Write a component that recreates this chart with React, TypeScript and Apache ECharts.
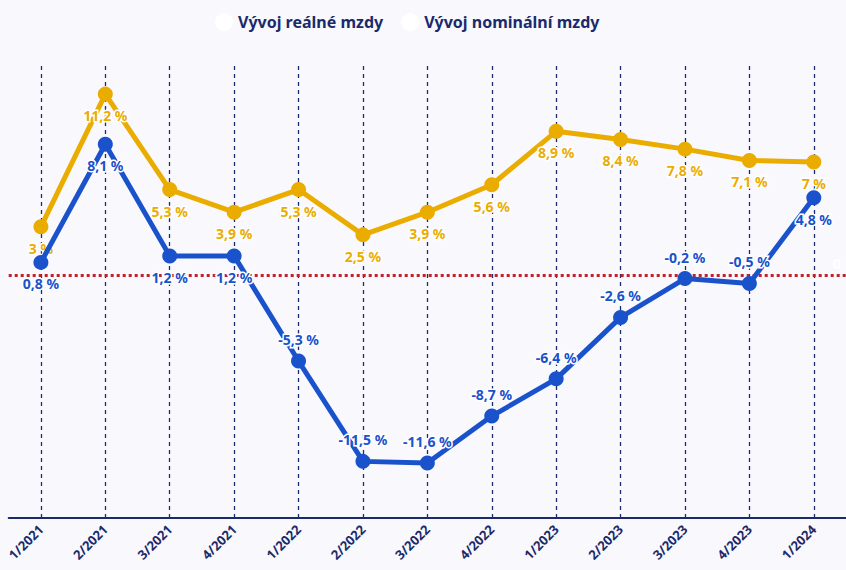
import React, { useEffect, useRef } from "react";
import * as echarts from "echarts";

const categories = ["1/2021", "2/2021", "3/2021", "4/2021", "1/2022", "2/2022", "3/2022", "4/2022", "1/2023", "2/2023", "3/2023", "4/2023", "1/2024"];
const realWages = [0.8, 8.1, 1.2, 1.2, -5.3, -11.5, -11.6, -8.7, -6.4, -2.6, -0.2, -0.5, 4.8];
const nominalWages = [3, 11.2, 5.3, 3.9, 5.3, 2.5, 3.9, 5.6, 8.9, 8.4, 7.8, 7.1, 7];
const seriesNames = ["Vývoj reálné mzdy", "Vývoj nominální mzdy"];

const NAVY = "#1b2a6b";
const BLUE = "#1a52cc";
const YELLOW = "#ebac00";
const FONT = "Noto Sans";

const fmt = (v: number) => String(v).replace(".", ",") + " %";

export default function App() {
  const ref = useRef<HTMLDivElement>(null);
  useEffect(() => {
    const chart = echarts.init(ref.current!, null, { renderer: "svg" });
    const labelBase = {
      show: true,
      fontFamily: FONT,
      fontWeight: "bold" as const,
      fontSize: 14,
      textBorderColor: "#ffffff",
      textBorderWidth: 3,
      distance: 7,
      formatter: (p: any) => fmt(p.value),
    };
    chart.setOption({
      animation: false,
      backgroundColor: "#f9f9fd",
      legend: {
        top: 8,
        left: 210,
        itemGap: 18,
        itemWidth: 18,
        itemHeight: 18,
        icon: "circle",
        textStyle: { fontFamily: FONT, fontWeight: "bold", fontSize: 16, color: NAVY },
        data: [
          { name: seriesNames[0], itemStyle: { color: "#ffffff" } },
          { name: seriesNames[1], itemStyle: { color: "#ffffff" } },
        ],
      },
      grid: { left: 8.7, width: 839.6, top: 65, height: 453, containLabel: false },
      xAxis: {
        type: "category",
        data: categories,
        boundaryGap: true,
        axisLine: { onZero: false, lineStyle: { color: NAVY, width: 2 } },
        axisTick: { alignWithLabel: true, length: 8, lineStyle: { color: NAVY, width: 2 } },
        axisLabel: {
          rotate: 45,
          margin: 9,
          fontFamily: FONT,
          fontWeight: "bold",
          fontSize: 13,
          color: NAVY,
          interval: 0,
        },
        splitLine: { show: false },
      },
      yAxis: {
        type: "value",
        min: -15,
        max: 13,
        show: false,
        splitLine: { show: false },
      },
      series: [
        {
          name: seriesNames[1],
          type: "line",
          data: nominalWages,
          color: YELLOW,
          lineStyle: { width: 5, color: YELLOW },
          symbol: "circle",
          symbolSize: 15,
          itemStyle: { color: YELLOW },
          label: { ...labelBase, position: "bottom", color: YELLOW },
          z: 3,
          markLine: {
            silent: true,
            symbol: "none",
            label: { show: false },
            lineStyle: { color: NAVY, type: [4, 4], width: 1.3 },
            data: categories.map((c) => ({ xAxis: c })),
            z: 1,
          },
        },
        {
          name: seriesNames[0],
          type: "line",
          data: realWages.map((v) => ({
            value: v,
            label: { position: v < 0 ? "top" : "bottom" },
          })),
          color: BLUE,
          lineStyle: { width: 5, color: BLUE },
          symbol: "circle",
          symbolSize: 15,
          itemStyle: { color: BLUE },
          label: { ...labelBase, color: BLUE },
          z: 4,
          markLine: {
            silent: true,
            symbol: "none",
            lineStyle: { color: "#c0222a", type: [3, 3], width: 3 },
            label: {
              show: true,
              position: "insideEndTop",
              formatter: "0",
              color: "#ffffff",
              fontFamily: FONT,
              fontWeight: "bold",
              fontSize: 15,
            },
            data: [{ yAxis: 0 }],
            z: 2,
          },
        },
      ],
    });
    return () => chart.dispose();
  }, []);
  return (
    <div
      ref={ref}
      style={{ position: "absolute", left: 0, top: 0, width: 846, height: 570 }}
    />
  );
}
